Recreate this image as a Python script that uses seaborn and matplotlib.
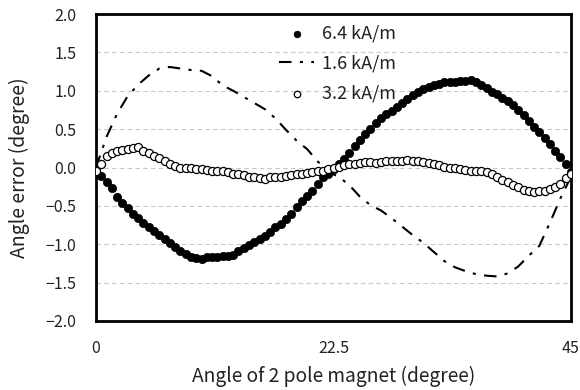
import numpy as np
import pandas as pd
import matplotlib
matplotlib.use("Agg")
import matplotlib.pyplot as plt
import seaborn as sns

# angle of the 2 pole magnet (degree), sampled every 0.5 degree for the dotted series
angle = np.arange(0, 45.01, 0.5)

err_64 = [-0.05, -0.11, -0.19, -0.27, -0.38, -0.46, -0.53, -0.60, -0.66, -0.72,
          -0.77, -0.83, -0.88, -0.93, -0.99, -1.04, -1.09, -1.13, -1.16, -1.18,
          -1.19, -1.17, -1.16, -1.17, -1.15, -1.15, -1.14, -1.09, -1.05, -1.01,
          -0.97, -0.93, -0.89, -0.84, -0.78, -0.73, -0.67, -0.61, -0.52, -0.44,
          -0.37, -0.30, -0.22, -0.13, -0.08, -0.02, 0.04, 0.11, 0.19, 0.28,
          0.36, 0.44, 0.50, 0.58, 0.64, 0.70, 0.74, 0.79, 0.84, 0.89,
          0.94, 0.98, 1.02, 1.05, 1.07, 1.09, 1.11, 1.12, 1.12, 1.13,
          1.13, 1.14, 1.11, 1.07, 1.03, 0.99, 0.96, 0.91, 0.87, 0.81,
          0.75, 0.68, 0.61, 0.53, 0.46, 0.38, 0.30, 0.22, 0.14, 0.04,
          -0.06]

err_32 = [-0.05, 0.05, 0.15, 0.19, 0.22, 0.23, 0.24, 0.25, 0.27, 0.22,
          0.19, 0.15, 0.12, 0.08, 0.05, 0.02, 0.00, -0.01, -0.01, -0.02,
          -0.02, -0.03, -0.04, -0.05, -0.05, -0.06, -0.08, -0.09, -0.10, -0.12,
          -0.13, -0.14, -0.15, -0.12, -0.12, -0.12, -0.11, -0.10, -0.09, -0.08,
          -0.07, -0.06, -0.05, -0.04, -0.02, -0.01, 0.01, 0.03, 0.04, 0.05,
          0.06, 0.07, 0.07, 0.06, 0.07, 0.08, 0.08, 0.08, 0.09, 0.10,
          0.09, 0.08, 0.07, 0.06, 0.04, 0.03, 0.01, 0.00, -0.01, -0.02,
          -0.03, -0.04, -0.04, -0.05, -0.06, -0.09, -0.12, -0.16, -0.19, -0.23,
          -0.26, -0.29, -0.31, -0.32, -0.31, -0.30, -0.28, -0.25, -0.21, -0.14,
          -0.08]

# 1.6 kA/m curve, read every 1 degree
angle_16 = np.arange(0, 46, 1)
err_16 = [0.00, 0.40, 0.70, 0.93, 1.08, 1.20, 1.29, 1.31, 1.29, 1.27,
          1.26, 1.19, 1.07, 1.00, 0.92, 0.84, 0.76, 0.64, 0.49, 0.35,
          0.24, 0.08, -0.06, -0.12, -0.23, -0.38, -0.49, -0.56, -0.66, -0.77,
          -0.88, -0.98, -1.10, -1.22, -1.30, -1.35, -1.39, -1.41, -1.42, -1.38,
          -1.29, -1.15, -1.02, -0.72, -0.40, -0.12]

labels = ["6.4 kA/m", "1.6 kA/m", "3.2 kA/m"]
x_ticks = [0, 22.5, 45]
x_ticklabels = ["0", "22.5", "45"]
y_ticks = np.arange(-2.0, 2.01, 0.5)

sns.set_style("white")
plt.rcParams['font.family'] = ['Noto Sans CJK JP', 'DejaVu Sans']

df_dots = pd.DataFrame({"angle": angle, "e64": err_64, "e32": err_32})
df_line = pd.DataFrame({"angle": angle_16, "e16": err_16})

fig = plt.figure(figsize=(5.8, 3.9), dpi=100)
ax = fig.add_axes([0.1655, 0.177, 0.819, 0.787])

for y in y_ticks[1:-1]:
    ax.axhline(y, color="#c8c8c8", lw=0.8, ls=(0, (4, 3)), zorder=0)

sns.scatterplot(data=df_dots, x="angle", y="e64", ax=ax, color="black",
                s=36, edgecolor="black", linewidth=0.5, label=labels[0], zorder=3)
sns.lineplot(data=df_line, x="angle", y="e16", ax=ax, color="black",
             lw=1.5, label=labels[1], zorder=2)
ax.lines[-1].set_dashes([6, 4, 1.5, 4])
sns.scatterplot(data=df_dots, x="angle", y="e32", ax=ax, facecolor="white",
                s=34, edgecolor="black", linewidth=0.9, label=labels[2], zorder=3)

ax.set_xlim(0, 45)
ax.set_ylim(-2.0, 2.0)
ax.set_xticks(x_ticks)
ax.set_xticklabels(x_ticklabels)
ax.set_yticks(y_ticks)
ax.set_yticklabels([f"{v:.1f}".replace("-", "\u2212") for v in y_ticks])
ax.tick_params(axis="x", direction="in", length=5, width=1, pad=14,
               labelsize=11.5, colors="black")
ax.tick_params(axis="y", length=0, pad=14, labelsize=11.5)
for lab in ax.get_xticklabels() + ax.get_yticklabels():
    lab.set_color("#222222")

for sp in ax.spines.values():
    sp.set_visible(True)
    sp.set_color("black")
    sp.set_linewidth(2)

ax.set_xlabel("Angle of 2 pole magnet (degree)", fontsize=13.8, color="#222222", labelpad=6)
ax.set_ylabel("Angle error (degree)", fontsize=14, color="#222222", labelpad=11)

leg = ax.legend(loc="upper left", bbox_to_anchor=(0.352, 1.018), frameon=False,
                fontsize=13, handlelength=1.9, handletextpad=0.45,
                labelspacing=0.66, markerscale=0.8)
for t in leg.get_texts():
    t.set_color("#222222")

fig.savefig("out.png", dpi=100)
